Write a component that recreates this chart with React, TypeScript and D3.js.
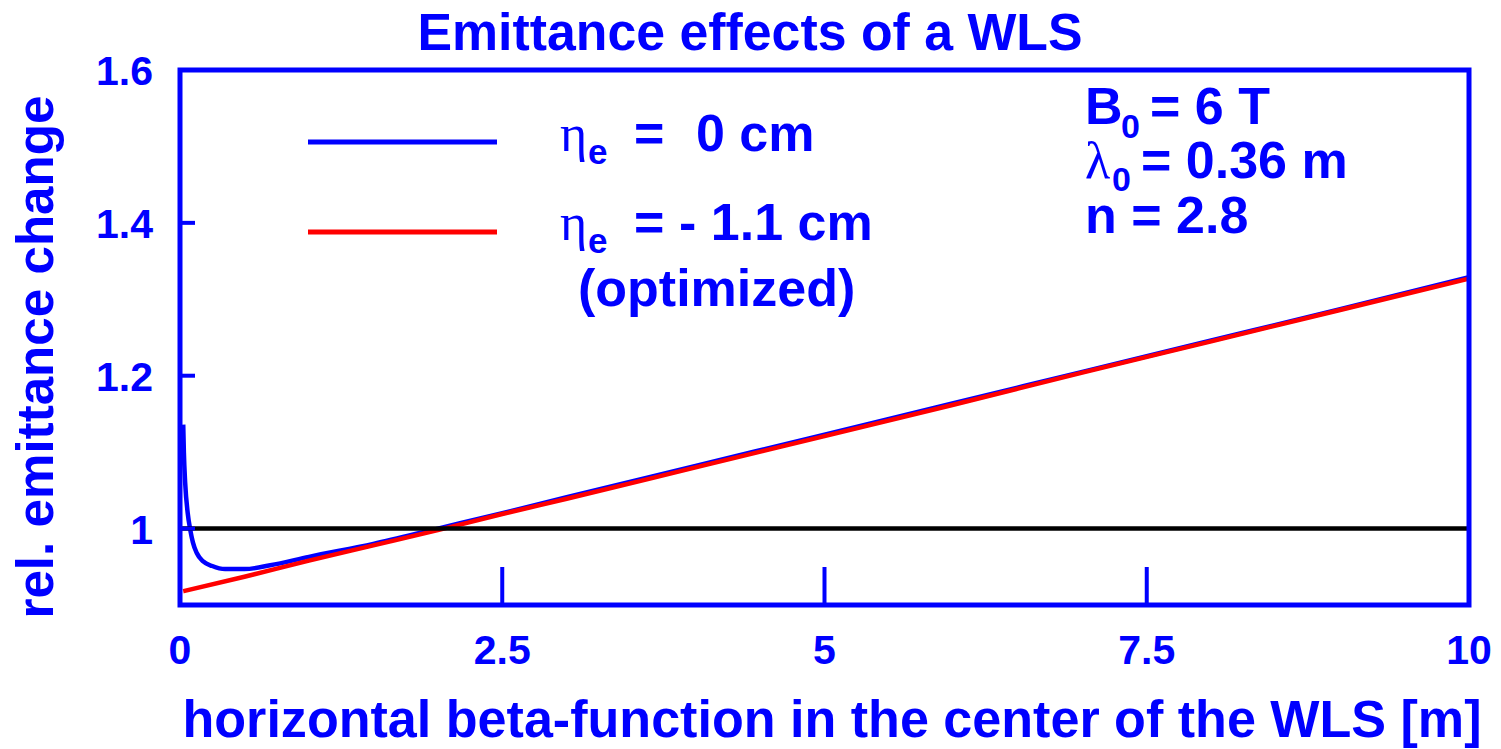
import React from "react";
import * as d3 from "d3";

const xTicks = [0, 2.5, 5, 7.5, 10];
const yTicks = [1, 1.2, 1.4, 1.6];

const betaBlue = [0.025, 0.03, 0.04, 0.06, 0.08, 0.1, 0.13, 0.18, 0.25, 0.35, 0.5, 0.7, 1.0, 1.5, 2.0, 2.5, 3.0, 4.0, 5.0, 6.0, 7.0, 8.0, 9.0, 10.0];
const emitBlue = [1.136, 1.1, 1.06, 1.02, 0.998, 0.982, 0.968, 0.957, 0.951, 0.947, 0.947, 0.952, 0.963, 0.98, 1.0, 1.02, 1.041, 1.082, 1.123, 1.164, 1.205, 1.246, 1.287, 1.329];

const betaRed = [0.025, 0.5, 1.0, 1.5, 2.0, 2.5, 3.0, 4.0, 5.0, 6.0, 7.0, 8.0, 9.0, 10.0];
const emitRed = [0.918, 0.937, 0.958, 0.978, 0.998, 1.019, 1.039, 1.08, 1.121, 1.162, 1.204, 1.245, 1.286, 1.327];

const refLine = [0, 10];
const refValue = 1;

const BLUE = "#0000ff";
const RED = "#ff0000";
const FONT = "'Liberation Sans', Arial, Helvetica, sans-serif";
const SERIF = "'Liberation Serif', 'DejaVu Serif', serif";

export default function App() {
  const x = d3.scaleLinear().domain([0, 10]).range([180, 1469]);
  const y = d3.scaleLinear().domain([0.9, 1.6]).range([605, 70]);
  const line = d3
    .line<[number, number]>()
    .x((d) => x(d[0]))
    .y((d) => y(d[1]))
    .curve(d3.curveMonotoneX);

  const blueData = betaBlue.map((b, i) => [b, emitBlue[i]] as [number, number]);
  const redData = betaRed.map((b, i) => [b, emitRed[i]] as [number, number]);

  return (
    <svg
      width={1501}
      height={749}
      style={{ position: "absolute", left: 0, top: 0, background: "#fff" }}
      fontFamily={FONT}
      fontWeight="bold"
    >
      <rect x={0} y={0} width={1501} height={749} fill="#fff" />
      {/* title */}
      <text x={750} y={50} fontSize={51} fill={BLUE} textAnchor="middle" textLength={665} lengthAdjust="spacingAndGlyphs">
        Emittance effects of a WLS
      </text>

      {/* curves */}
      <path d={line(blueData) || ""} fill="none" stroke={BLUE} strokeWidth={4.5} />
      <path d={line(redData) || ""} fill="none" stroke={RED} strokeWidth={4.5} />
      <line x1={x(refLine[0])} x2={x(refLine[1])} y1={y(refValue)} y2={y(refValue)} stroke="#000" strokeWidth={4.5} />

      {/* ticks */}
      {yTicks.map((t) => (
        <g key={"y" + t}>
          <line x1={x(0)} x2={x(0) + 15} y1={y(t)} y2={y(t)} stroke={BLUE} strokeWidth={4} />
          <text x={153} y={y(t) + 15} fontSize={41} fill={BLUE} textAnchor="end">
            {String(t)}
          </text>
        </g>
      ))}
      {xTicks.map((t) => (
        <g key={"x" + t}>
          <line x1={x(t)} x2={x(t)} y1={y(0.9)} y2={y(0.9) - 38} stroke={BLUE} strokeWidth={4} />
          <text x={x(t)} y={664} fontSize={41} fill={BLUE} textAnchor="middle">
            {String(t)}
          </text>
        </g>
      ))}

      {/* frame */}
      <rect x={x(0)} y={y(1.6)} width={x(10) - x(0)} height={y(0.9) - y(1.6)} fill="none" stroke={BLUE} strokeWidth={5} />

      {/* axis labels */}
      <text x={832} y={737} fontSize={51} fill={BLUE} textAnchor="middle" textLength={1299} lengthAdjust="spacingAndGlyphs">
        horizontal beta-function in the center of the WLS [m]
      </text>
      <text
        transform="translate(53,357) rotate(-90)"
        fontSize={52}
        fill={BLUE}
        textAnchor="middle"
        textLength={523}
        lengthAdjust="spacingAndGlyphs"
      >
        rel. emittance change
      </text>

      {/* legend */}
      <line x1={308} x2={497} y1={142} y2={142} stroke={BLUE} strokeWidth={5} />
      <line x1={308} x2={497} y1={232} y2={232} stroke={RED} strokeWidth={5} />
      <g fill={BLUE}>
        <text x={560} y={151} fontSize={52} fontFamily={SERIF} fontWeight="normal">η</text>
        <text x={588} y={164} fontSize={35}>e</text>
        <text x={634} y={151} fontSize={52}>=</text>
        <text x={696} y={151} fontSize={52}>0 cm</text>

        <text x={560} y={240} fontSize={52} fontFamily={SERIF} fontWeight="normal">η</text>
        <text x={588} y={253} fontSize={35}>e</text>
        <text x={634} y={240} fontSize={52}>=</text>
        <text x={679} y={240} fontSize={52}>- 1.1 cm</text>

        <text x={578} y={306} fontSize={52}>(optimized)</text>
      </g>

      {/* parameters */}
      <g fill={BLUE}>
        <text x={1085} y={124} fontSize={52}>B</text>
        <text x={1121} y={138} fontSize={34}>0</text>
        <text x={1150} y={124} fontSize={52}>= 6 T</text>

        <text x={1085} y={178} fontSize={52} fontFamily={SERIF} fontWeight="normal">λ</text>
        <text x={1112} y={191} fontSize={34}>0</text>
        <text x={1141} y={178} fontSize={52}>= 0.36 m</text>

        <text x={1085} y={233} fontSize={52}>n = 2.8</text>
      </g>
    </svg>
  );
}
